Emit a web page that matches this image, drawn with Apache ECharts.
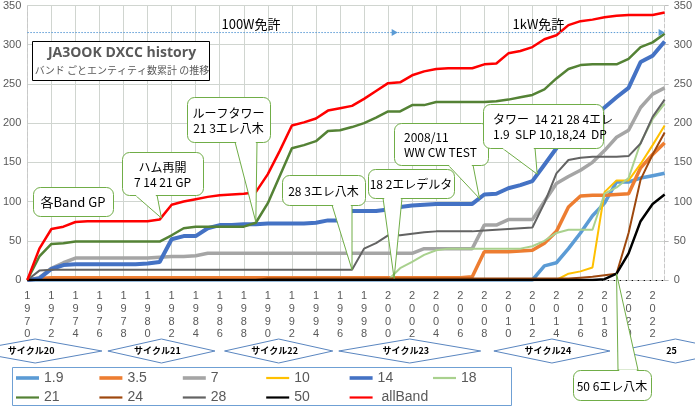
<!DOCTYPE html>
<html><head><meta charset="utf-8">
<script src="https://cdn.jsdelivr.net/npm/echarts@6/dist/echarts.min.js"></script>
<style>html,body{margin:0;padding:0;background:#fff}#main{width:695px;height:410px}</style>
</head><body><div id="main"></div>
<script>
const years = ['1970','1971','1972','1973','1974','1975','1976','1977','1978','1979',
  '1980','1981','1982','1983','1984','1985','1986','1987','1988','1989',
  '1990','1991','1992','1993','1994','1995','1996','1997','1998','1999',
  '2000','2001','2002','2003','2004','2005','2006','2007','2008','2009',
  '2010','2011','2012','2013','2014','2015','2016','2017','2018','2019',
  '2020','2021','2022','2023'];
const yTicks = [0,50,100,150,200,250,300,350];

const band19 = [0,0,0,0,0,0,0,0,0,0, 0,0,0,0,0,0,0,0,0,0, 0,0,0,0,0,0,0,0,0,0, 0,0,0,0,0,0,0,0,0,0,
  0,0,0,18,22,40,60,82,98,125, 125,130,133,136];
const band35 = [0,2,3,3,3,3,3,3,3,3, 3,3,3,3,3,3,3,3,3,3, 3,3,3,3,3,3,3,3,3,3, 3,3,3,3,3,3,3,4,36,36,
  36,37,38,47,62,93,107,108,108,109, 110,143,160,175];
const band7 = [0,3,15,22,28,28,28,28,28,28, 28,29,30,30,31,34,34,34,34,34, 34,34,34,34,34,34,34,34,34,34,
  34,34,34,40,40,40,40,40,70,70, 77,77,77,100,123,132,140,150,165,182, 191,220,237,245];
const band10 = [0,0,0,0,0,0,0,0,0,0, 0,0,0,0,0,0,0,0,0,0, 0,0,0,0,0,0,0,0,0,0, 0,0,0,0,0,0,0,0,0,0,
  0,0,0,0,0,8,11,16,112,127, 127,148,172,197];
const band14 = [0,2,14,19,20,20,20,20,20,20, 21,23,52,56,56,66,70,70,71,71, 72,72,72,72,73,76,76,88,88,88,
  90,93,95,96,97,97,97,97,109,110, 117,121,126,147,168,188,200,208,220,233, 245,278,286,304];
const band18 = [0,0,0,0,0,0,0,0,0,0, 0,0,0,0,0,0,0,0,0,0, 0,0,0,0,0,0,0,0,0,0, 0,15,23,32,38,40,40,40,40,40,
  40,40,43,50,60,64,64,64,110,118, 130,175,205,225];
const band21 = [0,30,46,47,49,49,49,49,49,49, 49,49,57,66,68,68,68,68,68,73, 98,133,168,172,177,190,191,195,200,207,
  215,215,223,223,227,227,227,227,227,228, 230,233,236,243,257,269,274,275,275,275, 282,297,303,314];
const band24 = [0,0,0,0,0,0,0,0,0,0, 0,0,0,0,0,0,0,0,0,0, 2,2,2,2,2,2,2,2,2,2, 2,2,2,2,2,2,2,2,2,2,
  2,2,2,2,2,2,3,4,6,8, 60,128,160,188];
const band28 = [0,12,13,13,13,13,13,13,13,13, 13,13,13,13,13,13,13,13,13,13, 13,13,13,13,13,13,13,13,40,47,
  57,57,59,61,62,62,62,62,63,64, 65,66,67,98,136,153,156,157,157,157, 158,174,208,230];
const band50 = [0,0,0,0,0,0,0,0,0,0, 0,0,0,0,0,0,0,0,0,0, 0,0,0,0,0,0,0,0,0,0, 0,0,0,0,0,0,0,0,0,0,
  0,0,0,0,0,0,0,0,1,8, 34,75,97,109];
const allBand = [0,40,65,68,74,75,75,75,75,75, 75,77,96,100,103,106,108,109,110,112, 135,165,197,201,206,216,219,222,231,241,
  251,252,261,266,269,270,270,270,275,276, 289,292,297,307,312,325,330,332,335,337, 338,338,338,341];

const seriesNames = ['1.9','3.5','7','10','14','18','21','24','28','50','allBand'];
const seriesData = [band19,band35,band7,band10,band14,band18,band21,band24,band28,band50,allBand];
const seriesColors = ['#5b9bd5','#ed7d31','#a5a5a5','#ffc000','#4472c4','#a9d18e','#548235','#9e480e','#636363','#000000','#ff0000'];
const seriesWidths = [3.5,3.5,3.5,2,4,2,2.5,2,2,2.5,2.5];

const licenseLevel = 315.5;
const licenseSplitYear = 2000.8;
const licenseLabels = [{text:'100W免許', year:1988.6},{text:'1kW免許', year:2012.5}];

const cycles = [
  {name:'サイクル20', from:1965.1, to:1976.2},
  {name:'サイクル21', from:1976.7, to:1985.6},
  {name:'サイクル22', from:1986.4, to:1995.4},
  {name:'サイクル23', from:1995.9, to:2007.7},
  {name:'サイクル24', from:2008.8, to:2018.45},
  {name:'25', from:2019.1, to:2028.7}
];

const callouts = [
  {text:'各Band GP', box:[33,187,80,29], fs:13},
  {text:'ハム再開\n7 14 21 GP', box:[122,152,81,43], base:[135,157], tip:[1981.15,79]},
  {text:'ルーフタワー\n21 3エレ八木', box:[187,97,83,45], base:[235,257], tip:[1989,74]},
  {text:'28 3エレ八木', box:[282,175,83,30], base:[332,352], tip:[1997,13]},
  {text:'18 2エレデルタ', box:[368,169,86,29], base:[383,402], tip:[2000.5,2]},
  {text:'2008/11\nWW CW TEST', box:[394,123,94,42], base:[448,473], tip:[2007.6,104], align:'left'},
  {text:'タワー  14 21 28 4エレ\n1.9  SLP 10,18,24  DP', box:[483,104,120,44], base:[502,535], tip:[2012.4,135], align:'left'},
  {text:'50 6エレ八木', box:[573,370,78,30], base:[618,638], tip:[2019,8], up:true}
];

const thickIcon = 'path://M0,0M0,8M0,2.2L23,2.2L23,5.8L0,5.8Z';
const thinIcon = 'path://M0,0M0,8M0,2.9L23,2.9L23,5.1L0,5.1Z';

const chart = echarts.init(document.getElementById('main'));
const axisFont = {color:'#595959', fontSize:11, fontFamily:'Liberation Sans, Arial, sans-serif'};
const legendText = {color:'#595959', fontSize:14, fontFamily:'Liberation Sans, Arial, sans-serif'};
const legendRows = [['1.9','3.5','7','10','14','18'], ['21','24','28','50','allBand']];
const legends = [];
legendRows.forEach((row, r) => row.forEach((n, c) => {
  const i = seriesNames.indexOf(n);
  legends.push({data:[{name:n, icon: seriesWidths[i] >= 3 ? thickIcon : thinIcon}],
    left: 16 + c*83.4, top: 371 + r*19.5, itemWidth:23, itemHeight:8, padding:0,
    textStyle:legendText, selectedMode:false, formatter: v => v==='allBand' ? ' allBand' : v});
}));

const option = {
  animation:false,
  backgroundColor:'#ffffff',
  grid:{left:25,right:27,top:5,bottom:130},
  legend:legends,
  xAxis:[
    {type:'category', data:years, boundaryGap:false,
     axisLine:{lineStyle:{color:'#000'}}, axisTick:{show:false, interval:1},
     axisLabel:Object.assign({interval:1, margin:10, lineHeight:12.7, formatter: v => v.split('').join('\n')}, axisFont),
     splitLine:{show:true, interval:1, lineStyle:{color:'#d0d5d0', width:1}}},
    {type:'category', data:years, boundaryGap:false, position:'top',
     axisLine:{lineStyle:{color:'#c8c8c8', type:'dashed'}}, axisTick:{show:false}, axisLabel:{show:false}}
  ],
  yAxis:[
    {type:'value', min:0, max:350, interval:50, position:'left',
     axisLine:{show:true, lineStyle:{color:'#c8c8c8', type:'dashed'}}, axisTick:{show:false},
     axisLabel:Object.assign({margin:6, formatter: v => yTicks.includes(v) ? String(v) : ''}, axisFont),
     splitLine:{lineStyle:{color:'#d0d5d0'}}},
    {type:'value', min:0, max:350, interval:50, position:'right',
     axisLine:{show:true, lineStyle:{color:'#c8c8c8', type:'dashed'}},
     axisTick:{show:true, length:4, lineStyle:{color:'#bfbfbf'}},
     axisLabel:Object.assign({margin:9}, axisFont), splitLine:{show:false}}
  ],
  series: seriesNames.map((n,i) => ({
    type:'line', name:n, data:seriesData[i], symbol:'none', smooth:false,
    lineStyle:{color:seriesColors[i], width:seriesWidths[i]},
    itemStyle:{color:seriesColors[i]}, z:2+i*0.01
  }))
};
chart.setOption(option);

const x0 = chart.convertToPixel({xAxisIndex:0}, 0);
const x1 = chart.convertToPixel({xAxisIndex:0}, 1);
const px = yr => x0 + (x1-x0)*(yr-1970);
const py = v => chart.convertToPixel({yAxisIndex:0}, v);

const g = [];
const jpFont = '"Noto Sans CJK JP", sans-serif';
// license line
const ly = py(licenseLevel);
const xs = px(1970), xm = px(licenseSplitYear), xe = px(2023);
[[xs,xm],[xm,xe]].forEach(([a,b]) => {
  g.push({type:'line', z:100, shape:{x1:a,y1:ly,x2:b-2,y2:ly}, style:{stroke:'#5b9bd5', lineWidth:1, lineDash:[1.5,1.5]}});
  g.push({type:'polygon', z:100, shape:{points:[[b-6,ly-3.5],[b,ly],[b-6,ly+3.5]]}, style:{fill:'#5b9bd5'}});
});
licenseLabels.forEach(l => g.push({type:'text', z:100, style:{text:l.text, x:px(l.year), y:ly-8, align:'center', verticalAlign:'middle', font:'13px '+jpFont, fill:'#000'}}));

// title box
g.push({type:'rect', z:100, shape:{x:32.5,y:41.5,width:177,height:39}, style:{fill:'#fff', stroke:'#000', lineWidth:1}});
g.push({type:'text', z:101, style:{text:'JA3OOK DXCC history', x:122, y:53, align:'center', verticalAlign:'middle', font:'bold 14px "Open Sans", sans-serif', fill:'#595959'}});
g.push({type:'text', z:101, style:{text:'バンド ごとエンティティ数累計 の推移', x:122, y:70, align:'center', verticalAlign:'middle', font:'10px '+jpFont, fill:'#595959'}});

// callouts
callouts.forEach(c => {
  const [bx,by,bw,bh] = c.box;
  if (c.tip) {
    const tx = px(c.tip[0]), ty = py(c.tip[1]);
    const yb = c.up ? by : by+bh;
    g.push({type:'polygon', z:110, shape:{points:[[c.base[0],yb],[tx,ty],[c.base[1],yb]]}, style:{fill:'#fff', stroke:'#70ad47', lineWidth:1}});
  }
  g.push({type:'rect', z:111, shape:{x:bx+0.5,y:by+0.5,width:bw,height:bh,r:7}, style:{fill:'#fff', stroke:'#70ad47', lineWidth:1}});
  if (c.tip) {
    const yb = c.up ? by+0.5 : by+bh+0.5;
    g.push({type:'line', z:112, shape:{x1:c.base[0]+1.2,y1:yb,x2:c.base[1]-1.2,y2:yb}, style:{stroke:'#fff', lineWidth:2}});
  }
  const left = c.align === 'left';
  g.push({type:'text', z:113, style:{text:c.text, x: left ? bx+10 : bx+bw/2, y: by+bh/2+1, align: left?'left':'center', verticalAlign:'middle',
    font:(c.fs||12)+'px '+jpFont, lineHeight: 15, fill:'#000'}});
});

// cycles
const cy = 351;
cycles.forEach(c => {
  const xl = px(c.from), xr = px(c.to), xc = (xl+xr)/2;
  g.push({type:'polygon', z:90, shape:{points:[[xl,cy],[xc,cy-12],[xr,cy],[xc,cy+12]]}, style:{fill:'#fff', stroke:'#5a86c0', lineWidth:1}});
  const tx = Math.max(xc-4, 24);
  g.push({type:'text', z:91, style:{text:c.name, x:tx, y:cy, align:'center', verticalAlign:'middle', font:'bold 9px '+jpFont, fill:'#000'}});
});
// legend frame
g.push({type:'rect', z:1, shape:{x:12.5,y:367.5,width:499,height:38}, style:{fill:'none', stroke:'#6fa0d4', lineWidth:1}});

chart.setOption({graphic:g});
</script></body></html>
